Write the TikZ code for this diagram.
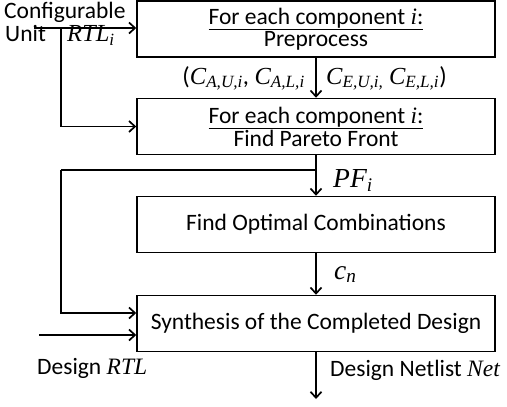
\documentclass[tikz,border=0pt]{standalone}
\usepackage{fontspec}
\setmainfont{Carlito}
\newfontfamily\serf{Liberation Serif}
\usetikzlibrary{arrows.meta}
\newcommand\tv[1]{{\serf\itshape #1}}
\newcommand\sbs[1]{\textsubscript{\serf\itshape #1}}
\begin{document}
\begin{tikzpicture}[x=1pt,y=-1pt,
  box/.style={draw, line width=1.5pt, minimum width=358pt, minimum height=56pt, align=center,
    font=\fontsize{23.5}{22}\selectfont, inner sep=0},
  conn/.style={line width=1.5pt, -{Straight Barb[length=6pt,width=11pt,line width=1.7pt]}},
  plain/.style={line width=1.5pt},
  lbl/.style={font=\fontsize{23.5}{22}\selectfont, inner sep=0},
  mlbl/.style={font=\fontsize{24.5}{24}\selectfont, inner sep=0},
  blbl/.style={font=\fontsize{27.5}{30}\selectfont, inner sep=0}]
\useasboundingbox (0,0) rectangle (507,407);
\node[box] (b1) at (316,29) {\underline{For each component \tv{i}:}\\Preprocess};
\node[box] (b2) at (316,126.5) {\underline{For each component \tv{i}:}\\Find Pareto Front};
\node[box] (b3) at (316,224.5) {Find Optimal Combinations};
\node[box] (b4) at (316,323.5) {Synthesis of the Completed Design};

\coordinate (cin) at (34,28);
\coordinate (j1) at (61,28);
\coordinate (j2) at (316,170);
\coordinate (c2) at (61,170);
\coordinate (e2) at ([yshift=10.5pt]b4.west);
\coordinate (din) at ([xshift=-97pt,yshift=-11.5pt]b4.west);
\coordinate (e3) at ([yshift=-11.5pt]b4.west);
\coordinate (out) at (316,399);

\draw[conn] (cin) -- (cin -| b1.west);
\draw[conn] (j1) |- (b2.west);
\draw[conn] (b1) -- (b2);
\draw[conn] (b2) -- (b3);
\draw[plain] (j2) -- (c2);
\draw[conn] (c2) |- (e2);
\draw[conn] (b3) -- (b4);
\draw[conn] (din) -- (e3);
\draw[conn] (b4) -- (out);

\node[lbl, anchor=base west] (t1) at (4,18) {Configurable};
\node[lbl, anchor=base west] (t2) at (5,41.5) {Unit};
\node[mlbl, anchor=base west] (t3) at (67,41.5) {\tv{RTL}\sbs{i}};
\node[mlbl, anchor=base east] (t4) at (305,84) {(\tv{C}\sbs{A,U,i}, \tv{C}\sbs{A,L,i}};
\node[mlbl, anchor=base west] (t5) at (326,84) {\tv{C}\sbs{E,U,i,} \tv{C}\sbs{E,L,i})};
\node[blbl, anchor=base west] (t6) at (333,187) {\tv{PF}\sbs{i}};
\node[blbl, anchor=base west] (t7) at (334,279) {\tv{c}\sbs{n}};
\node[lbl, anchor=base west] (t8) at (37,374) {Design \tv{RTL}};
\node[lbl, anchor=base west] (t9) at (330,376) {Design Netlist \tv{Net}};
\end{tikzpicture}
\end{document}
